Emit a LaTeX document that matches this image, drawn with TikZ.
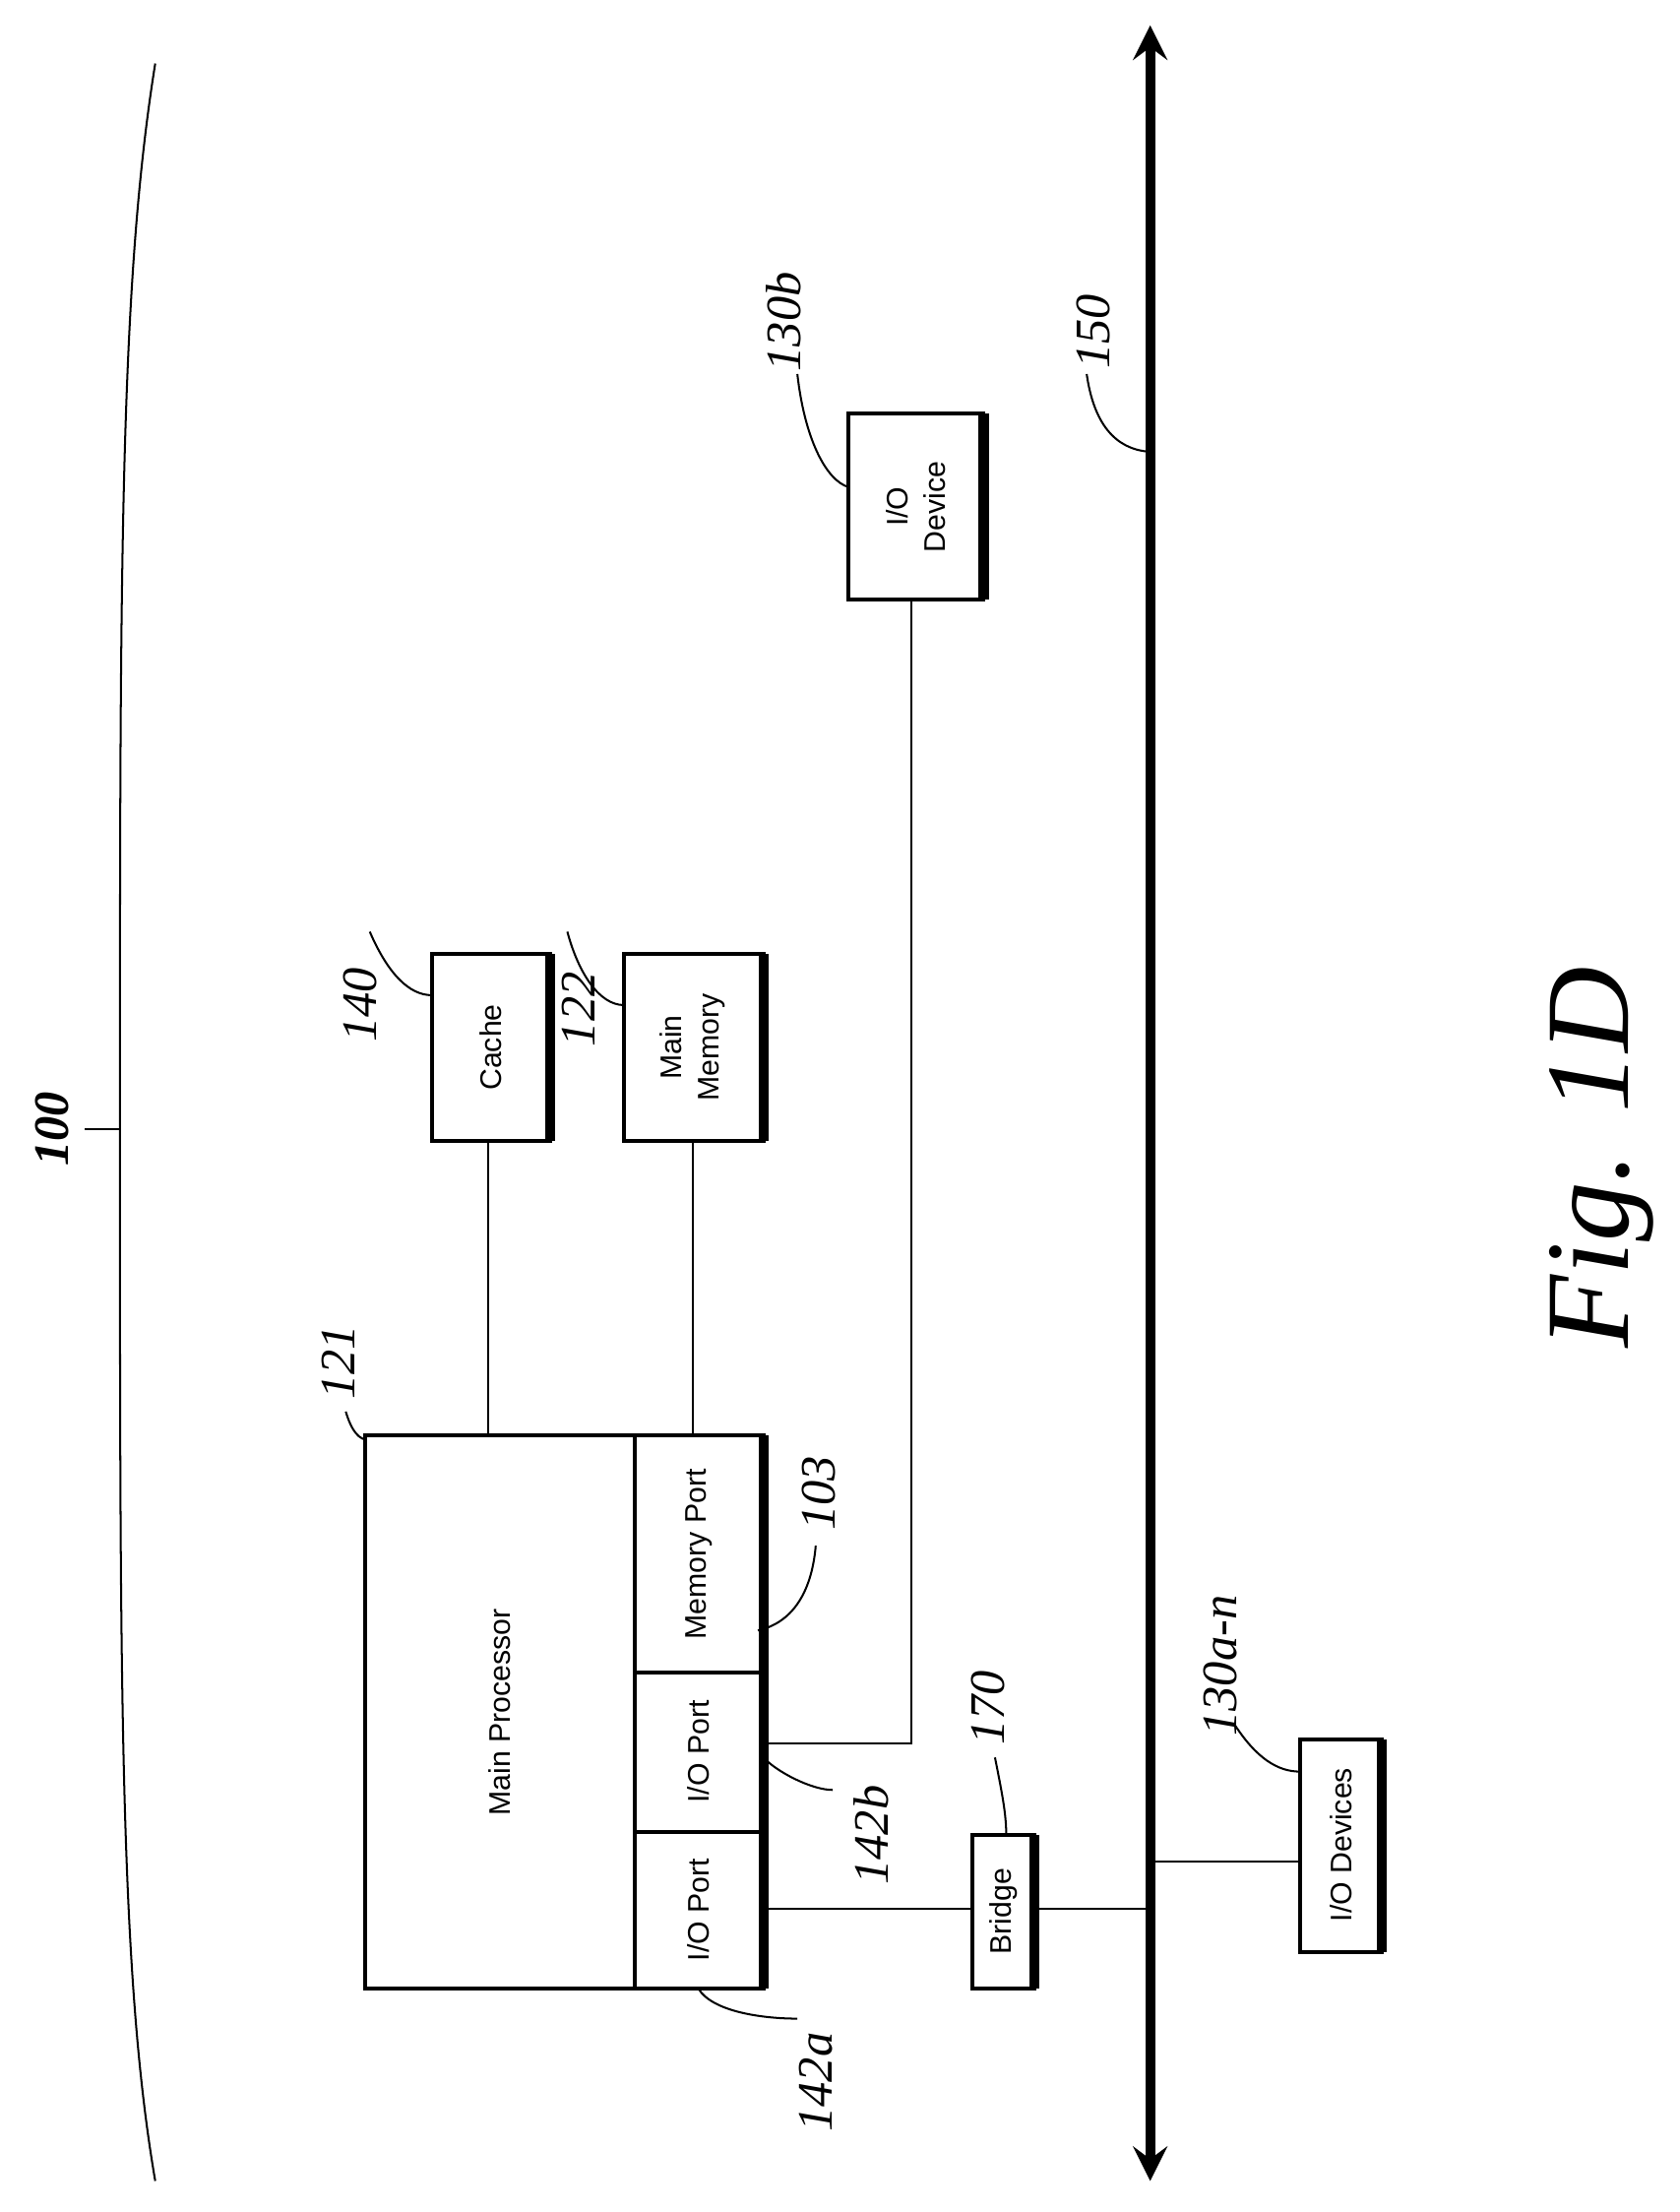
\documentclass[tikz,border=0pt]{standalone}
\usepackage{fontspec}
\setmainfont{Liberation Serif}
\setsansfont{Liberation Sans}
\usetikzlibrary{arrows,positioning}
\tikzstyle{blk} = [draw, line width=0.8pt, rotate=90, font=\sffamily\fontsize{6}{7.5}\selectfont, align=center, inner sep=0pt]
\tikzstyle{ref} = [rotate=90, font=\itshape\fontsize{10}{10}\selectfont]
\tikzstyle{lead} = [line width=0.4pt]
\begin{document}
\begin{tikzpicture}[x=0.01cm, y=-0.01cm]
\useasboundingbox (0,0) rectangle (1190,1567);
% enclosure bracket
\draw[lead] (110,45) .. controls (85,200) and (85,400) .. (85,800) .. controls (85,1200) and (85,1400) .. (110,1545);
\coordinate (t100) at (60,800);
\draw[lead] (t100) -- (85,800);
\node[ref, font=\bfseries\itshape\fontsize{10}{10}\selectfont] (l100) at (37,800) {100};
% bus
\coordinate (bt) at (815,18);
\coordinate (bb) at (815,1545);
\draw[line width=2pt, <->, >=stealth] (bt) -- (bb);
\node[ref] (l150) at (775,235) {150};
\draw[lead] (770,265) .. controls (775,300) and (790,318) .. (814,320);
% boxes
\draw[line width=0.8pt] (601,293) rectangle (697,425);
\draw[line width=2pt] (697,293) -- (697,425);
\node[blk, draw=none] (io) at (649,359) {I/O\\Device};
\node[ref] (l130b) at (555,228) {130\textit{b}};
\draw[lead] (565,265) .. controls (570,310) and (585,340) .. (601,345);

\draw[line width=0.8pt] (306,676) rectangle (390,808);
\draw[line width=2pt] (390,676) -- (390,808);
\node[blk, draw=none] (cache) at (348,742) {Cache};
\node[ref] (l140) at (255,712) {140};
\draw[lead] (262,660) .. controls (275,690) and (290,705) .. (306,705);

\draw[line width=0.8pt] (442,676) rectangle (541,808);
\draw[line width=2pt] (541,676) -- (541,808);
\node[blk, draw=none] (mem) at (491,742) {Main\\Memory};
\node[ref] (l122) at (410,715) {122};
\draw[lead] (402,660) .. controls (410,690) and (425,712) .. (442,712);

% processor
\draw[line width=0.8pt] (259,1017) rectangle (541,1409);
\draw[line width=2pt] (541,1017) -- (541,1409);
\draw[line width=0.8pt] (450,1017) -- (450,1409);
\draw[line width=0.8pt] (450,1185) -- (541,1185);
\draw[line width=0.8pt] (450,1298) -- (541,1298);
\node[blk, draw=none] (cpu) at (354,1213) {Main Processor};
\node[blk, draw=none] (mport) at (495,1101) {Memory Port};
\node[blk, draw=none] (port2) at (495,1241) {I/O Port};
\node[blk, draw=none] (port1) at (495,1353) {I/O Port};
\node[ref] (l121) at (240,965) {121};
\draw[lead] (245,1000) .. controls (248,1010) and (252,1018) .. (259,1020);
\node[ref] (l103) at (580,1058) {103};
\draw[lead] (578,1095) .. controls (575,1130) and (560,1150) .. (537,1155);
\node[ref] (l142b) at (617,1300) {142\textit{b}};
\draw[lead] (590,1268) .. controls (575,1268) and (550,1255) .. (541,1245);
\node[ref] (l142a) at (578,1475) {142\textit{a}};
\draw[lead] (565,1430) .. controls (540,1430) and (505,1425) .. (495,1409);

% connectors
\draw[lead] (346,808) -- (346,1017);
\draw[lead] (491,808) -- (491,1017);
\draw[lead] (646,425) -- (646,1235) -- (541,1235);
\draw[lead] (541,1352) -- (815,1352);

% bridge
\draw[line width=0.8pt, fill=white] (689,1300) rectangle (733,1409);
\draw[line width=2pt] (733,1300) -- (733,1409);
\node[blk, draw=none] (bridge) at (711,1354) {Bridge};
\node[ref] (l170) at (700,1210) {170};
\draw[lead] (705,1245) .. controls (710,1270) and (713,1285) .. (713,1300);

% I/O devices
\draw[lead] (815,1319) -- (921,1319);
\draw[line width=0.8pt] (921,1232) rectangle (979,1383);
\draw[line width=2pt] (979,1232) -- (979,1383);
\node[blk, draw=none] (iod) at (950,1307) {I/O Devices};
\node[ref] (l130a) at (865,1180) {130\textit{a-n}};
\draw[lead] (875,1222) .. controls (890,1245) and (905,1255) .. (921,1255);

\node[rotate=90, font=\itshape\fontsize{24}{24}\selectfont] (fig) at (1135,820) {Fig. 1D};
\end{tikzpicture}
\end{document}
